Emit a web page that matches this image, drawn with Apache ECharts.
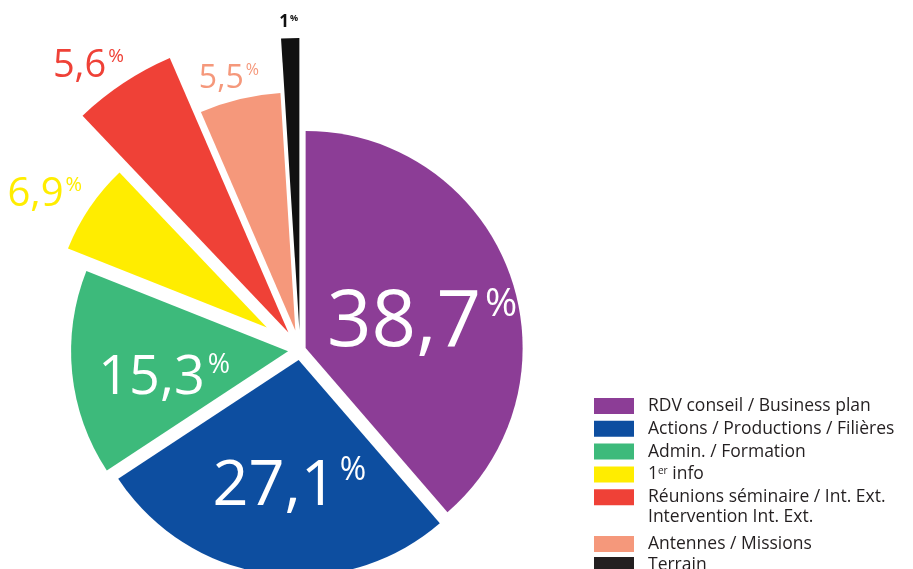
<!DOCTYPE html>
<html><head><meta charset="utf-8">
<script src="https://cdn.jsdelivr.net/npm/echarts@6/dist/echarts.min.js"></script>
<style>html,body{margin:0;padding:0;background:#fff}#c{width:913px;height:569px}</style>
</head><body><div id="c"></div>
<script>
// ---- data ----
const categories = ['RDV conseil / Business plan', 'Actions / Productions / Filières', 'Admin. / Formation', '1er info', 'Réunions séminaire / Int. Ext.', 'Antennes / Missions', 'Terrain'];
const shares = [38.7, 27.1, 15.3, 6.9, 5.6, 5.5, 1];
const legendExtraLine = 'Intervention Int. Ext.';

// ---- style ----
const colors = ['#8c3d96', '#0d4ea0', '#3dba7b', '#ffed00', '#ef4137', '#f5987b', '#111111'];
const legendColors = ['#8c3d96', '#0d4ea0', '#3dba7b', '#ffed00', '#ef4137', '#f5987b', '#231f20'];
const FONT = 'Open Sans';
const base = [300, 350];
const explode = [6, 10, 12, 40, 21, 20, 20];
const radii = [217, 216, 217, 214, 299, 238, 292];
const labelSize = [78, 63, 54, 40, 38, 32, 17];
const labelColor = ['#fff', '#fff', '#fff', '#ffed00', '#ef4137', '#f5987b', '#111'];
const labelWeight = ['normal', 'normal', 'normal', 'normal', 'normal', 'normal', 'bold'];
const labelShift = [[12, 15], [6, 17], [-13, 16], [-131, -71], [-116, -139], [-38, -133], [-6, -159]];

const fmt = v => String(v).replace('.', ',');
const total = shares.reduce((a, b) => a + b, 0);
let acc = 0;
const series = shares.map((v, i) => {
  const mid = (acc + v / 2) / total * 2 * Math.PI;
  acc += v;
  const cx = base[0] + explode[i] * Math.sin(mid);
  const cy = base[1] - explode[i] * Math.cos(mid);
  const F = labelSize[i];
  return {
    type: 'pie',
    center: [cx, cy],
    radius: radii[i],
    startAngle: 90,
    clockwise: true,
    avoidLabelOverlap: false,
    silent: true,
    animation: false,
    emphasis: { disabled: true },
    labelLine: { show: false },
    label: {
      position: 'inside',
      formatter: p => '{n|' + fmt(p.value) + '}{p|%}',
      rich: {
        n: { fontFamily: FONT, fontSize: F, lineHeight: F, color: labelColor[i], fontWeight: labelWeight[i] },
        p: { fontFamily: FONT, fontSize: Math.round(F * 0.5), lineHeight: Math.round(F * 0.66), verticalAlign: 'top', color: labelColor[i], fontWeight: labelWeight[i], padding: [0, 0, 0, Math.round(F * 0.05)] }
      }
    },
    labelLayout: { dx: labelShift[i][0], dy: labelShift[i][1] },
    data: categories.map((name, j) => ({
      name: name,
      value: shares[j],
      itemStyle: { color: j === i ? colors[j] : 'rgba(0,0,0,0)' },
      label: { show: j === i }
    }))
  };
});

const legendCommon = {
  orient: 'vertical', left: 594, padding: 0, height: 200,
  itemWidth: 40, itemHeight: 16, icon: 'rect', selectedMode: false,
  formatter: n => n.replace(/^1er/, '1{sup|er}'),
  textStyle: {
    fontFamily: FONT, fontSize: 17.5, color: '#231f20', lineHeight: 16, padding: [0, 0, 0, 9],
    rich: { sup: { fontFamily: FONT, fontSize: 10, lineHeight: 16, verticalAlign: 'top', color: '#231f20' } }
  }
};
const option = {
  animation: false,
  title: {
    text: legendExtraLine, left: 648, top: 508, padding: 0,
    textStyle: { fontFamily: FONT, fontSize: 17.5, fontWeight: 'normal', color: '#231f20' }
  },
  legend: [
    Object.assign({}, legendCommon, {
      top: 397, itemGap: 4.8,
      data: categories.slice(0, 5).map((n, k) => ({ name: n, itemStyle: { color: legendColors[k], opacity: 1 } }))
    }),
    Object.assign({}, legendCommon, {
      top: 535, itemGap: 3,
      data: categories.slice(5).map((n, k) => ({ name: n, itemStyle: { color: legendColors[k + 5], opacity: 1 } }))
    })
  ],
  series: series
};
const chart = echarts.init(document.getElementById('c'), null, { renderer: 'canvas' });
chart.setOption(option);
</script>
</body></html>
